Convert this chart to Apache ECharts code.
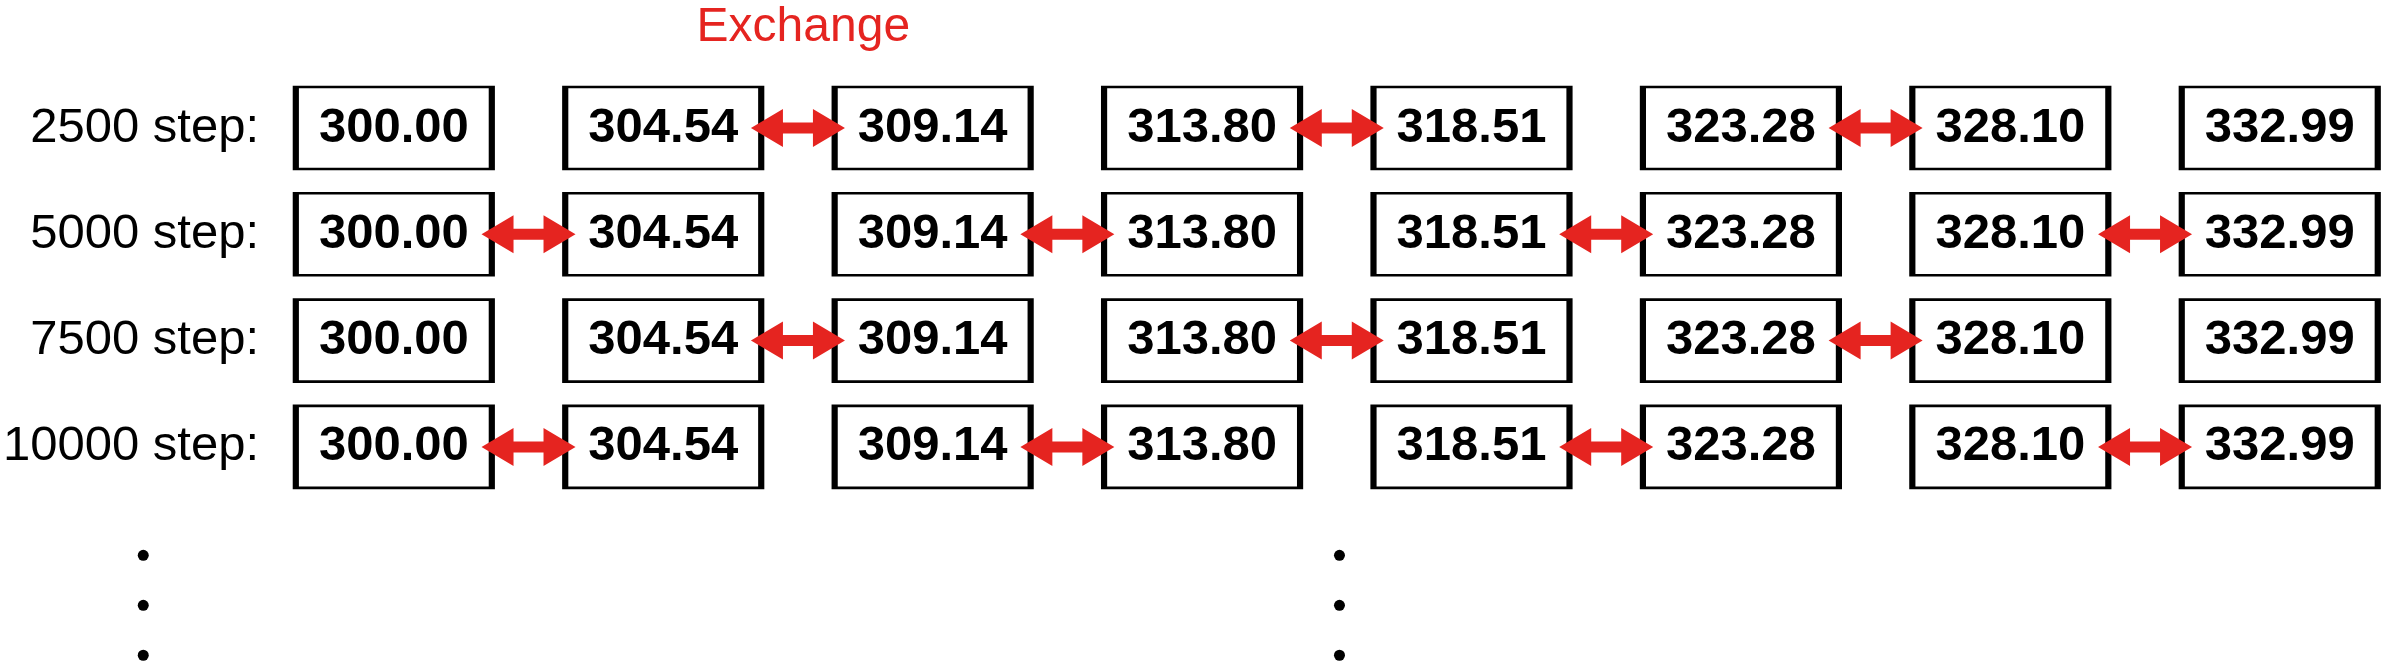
<!DOCTYPE html>
<html>
<head>
<meta charset="utf-8">
<script src="https://cdn.jsdelivr.net/npm/echarts@6/dist/echarts.min.js"></script>
<style>
  html, body { margin: 0; padding: 0; background: #fff; }
  #chart { width: 2381px; height: 668px; }
</style>
</head>
<body>
<div id="chart"></div>
<script>
// Row labels (one per MD step shown)
const stepLabels = ["2500 step:", "5000 step:", "7500 step:", "10000 step:"];

// Replica temperatures, one box per column
const temperatures = ["300.00", "304.54", "309.14", "313.80", "318.51", "323.28", "328.10", "332.99"];

// Left column index of every exchanging pair, per row
const exchangeLeft = [
    [1, 3, 5],
    [0, 2, 4, 6],
    [1, 3, 5],
    [0, 2, 4, 6]
];

// Ellipsis dots below the table
const dotColumns = [-0.93, 3.51];
const dotRows = [4.02, 4.49, 4.96];

// Title text
const exchangeTitle = "Exchange";

const RED = "#e52420";
const FONT = "'Liberation Sans', Arial, sans-serif";

// Build box points
let boxData = [];
for (let r = 0; r < stepLabels.length; r++) {
    for (let c = 0; c < temperatures.length; c++) {
        boxData.push([c, r, temperatures[c]]);
    }
}

// Build arrow points (midpoint between two boxes)
let arrowData = [];
exchangeLeft.forEach((cols, r) => {
    cols.forEach(c => arrowData.push([c + 0.5, r]));
});

// Build dot points
let dotData = [];
dotColumns.forEach(c => dotRows.forEach(r => dotData.push([c, r])));

const chart = echarts.init(document.getElementById("chart"));

// Double headed arrow drawn in pixels around a data point
function renderArrow(params, api) {
    const p = api.coord([api.value(0), api.value(1)]);
    const half = 47, head = 32, headH = 19, shaft = 5.5;
    const x = p[0], y = p[1];
    return {
        type: "polygon",
        shape: {
            points: [
                [x - half, y],
                [x - half + head, y - headH],
                [x - half + head, y - shaft],
                [x + half - head, y - shaft],
                [x + half - head, y - headH],
                [x + half, y],
                [x + half - head, y + headH],
                [x + half - head, y + shaft],
                [x - half + head, y + shaft],
                [x - half + head, y + headH]
            ]
        },
        style: { fill: RED }
    };
}

const option = {
    animation: false,
    backgroundColor: "#fff",

    // GRID
    grid: {
        left: 257,
        right: 101.25,
        top: 21.7,
        bottom: 8.5,
        containLabel: false
    },

    // XAXIS (replica columns)
    xAxis: {
        type: "value",
        min: -0.5,
        max: 7,
        show: false
    },

    // YAXIS (steps)
    yAxis: {
        type: "value",
        inverse: true,
        min: -1,
        max: 5,
        interval: 1,
        axisLine: { show: false },
        axisTick: { show: false },
        splitLine: { show: false },
        axisLabel: {
            margin: 0,
            fontFamily: FONT,
            fontSize: 49,
            color: "#000",
            formatter: function (v) {
                return stepLabels[v] !== undefined ? stepLabels[v] : "";
            }
        }
    },

    series: [
        // Temperature boxes
        {
            type: "scatter",
            clip: false,
            symbol: "rect",
            symbolSize: [196, 82],
            z: 2,
            itemStyle: {
                color: "#fff",
                borderColor: "#000",
                borderWidth: 4,
                opacity: 1
            },
            label: {
                show: true,
                position: "inside",
                fontFamily: FONT,
                fontWeight: "bold",
                fontSize: 49,
                color: "#000",
                formatter: p => p.value[2]
            },
            emphasis: { disabled: true },
            data: boxData
        },
        // Exchange arrows
        {
            type: "custom",
            clip: false,
            z: 3,
            renderItem: renderArrow,
            data: arrowData
        },
        // Ellipsis dots
        {
            type: "scatter",
            clip: false,
            symbol: "circle",
            symbolSize: 11,
            itemStyle: { color: "#000", opacity: 1 },
            emphasis: { disabled: true },
            data: dotData
        },
        // Title text
        {
            type: "scatter",
            clip: false,
            symbolSize: 0,
            itemStyle: { opacity: 1 },
            label: {
                show: true,
                position: "inside",
                fontFamily: FONT,
                fontSize: 48,
                color: RED,
                formatter: () => exchangeTitle
            },
            emphasis: { disabled: true },
            data: [[1.52, -0.945]]
        }
    ]
};

chart.setOption(option);
</script>
</body>
</html>
